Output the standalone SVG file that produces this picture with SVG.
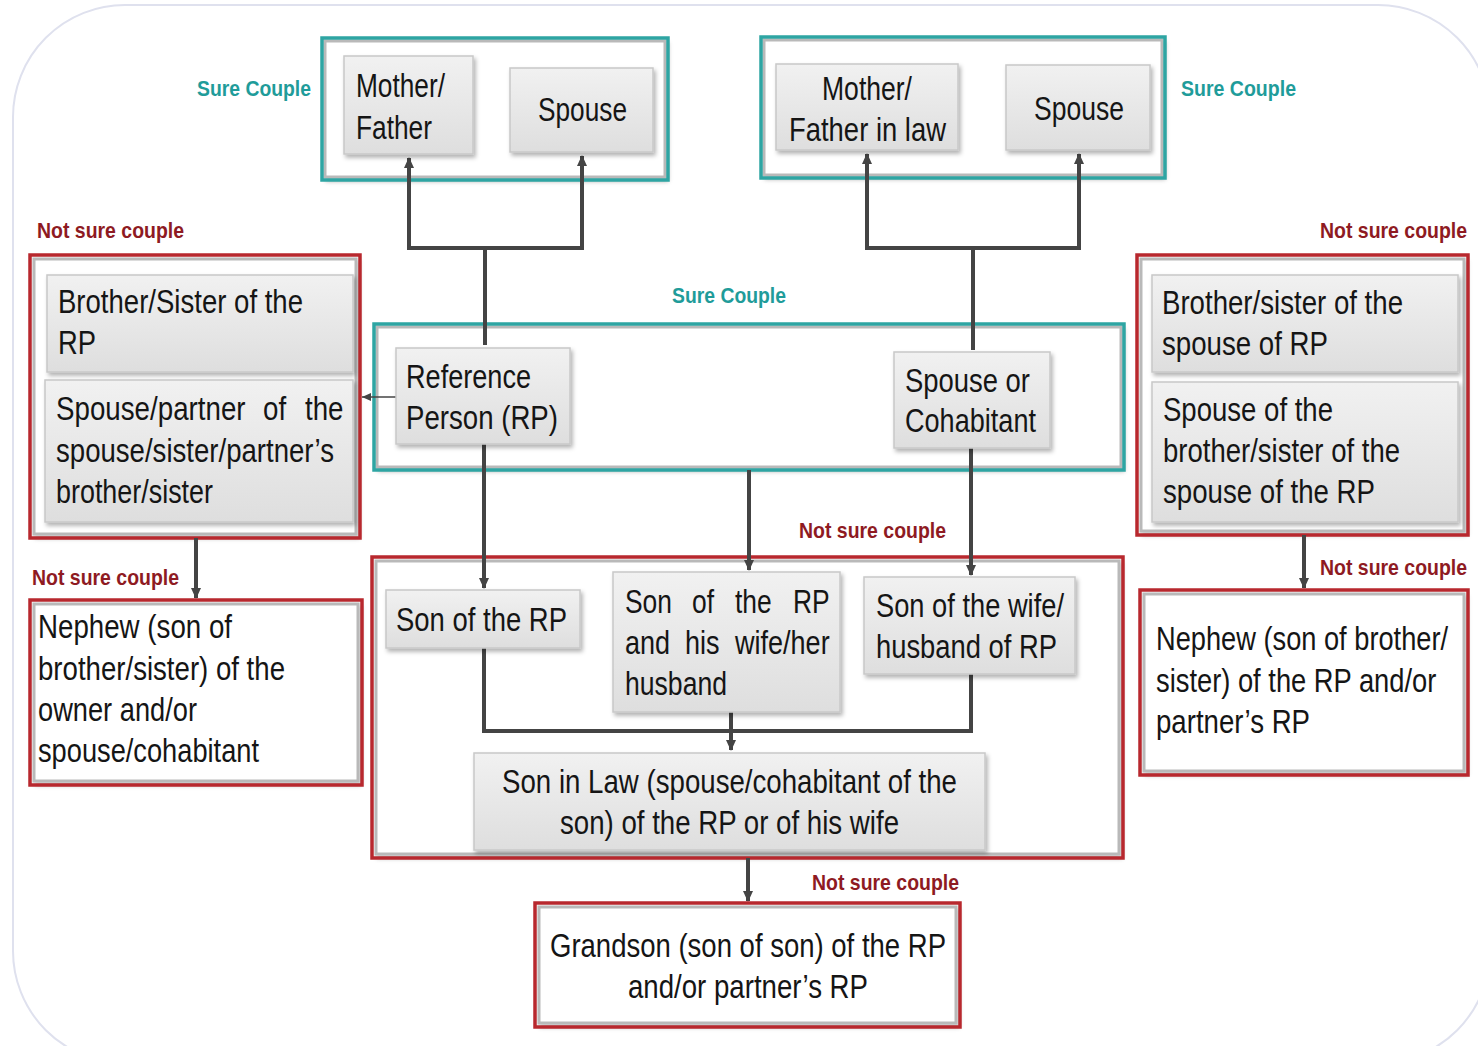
<svg xmlns="http://www.w3.org/2000/svg" width="1478" height="1046" viewBox="0 0 1478 1046">
<style>
.t{font-family:"Liberation Sans",Arial,sans-serif;font-size:33px;fill:#151515}
.sc{font-family:"Liberation Sans",Arial,sans-serif;font-size:22px;font-weight:bold;fill:#1f9c9a}
.ns{font-family:"Liberation Sans",Arial,sans-serif;font-size:22px;font-weight:bold;fill:#8e1a22}
.btn{fill:url(#bg);stroke:#c8c8c8;stroke-width:1.5;filter:url(#sh)}
.tealf{fill:none;stroke:#2ea5a3;stroke-width:3.5}
.redf{fill:none;stroke:#b8282e;stroke-width:3.5}
.inner{fill:#fff;stroke:#b9b9b9;stroke-width:3;filter:url(#sh)}
.c{fill:none;stroke:#444;stroke-width:4}
.thin{fill:none;stroke:#444;stroke-width:1.5}
</style>
<defs>
<linearGradient id="bg" x1="0" y1="0" x2="0" y2="1">
<stop offset="0" stop-color="#f1f1f1"/>
<stop offset="1" stop-color="#dedede"/>
</linearGradient>
<filter id="sh" x="-10%" y="-10%" width="130%" height="130%">
<feDropShadow dx="2" dy="3" stdDeviation="2" flood-color="#000" flood-opacity="0.3"/>
</filter>
<marker id="ah" markerWidth="12" markerHeight="12" refX="10" refY="6" orient="auto" markerUnits="userSpaceOnUse">
<path d="M0,1 L11,6 L0,11 Z" fill="#444"/>
</marker>
<marker id="ahs" markerWidth="10" markerHeight="8" refX="9" refY="4" orient="auto" markerUnits="userSpaceOnUse">
<path d="M0,0 L9,4 L0,8 Z" fill="#444"/>
</marker>
</defs>
<rect x="13" y="5" width="1477" height="1058" rx="112" fill="#fff" stroke="#dfe1ee" stroke-width="2"/>

<g id="frames">
<g id="frame-parents"><rect class="inner" x="325" y="41" width="340" height="136"/><rect class="tealf" x="322" y="38" width="346" height="142"/></g>
<g id="frame-inlaws"><rect class="inner" x="764" y="40" width="398" height="135"/><rect class="tealf" x="761" y="37" width="404" height="141"/></g>
<g id="frame-couple"><rect class="inner" x="377" y="327" width="744" height="140"/><rect class="tealf" x="374" y="324" width="750" height="146"/></g>
<g id="frame-siblings-rp"><rect class="inner" x="34" y="259" width="322" height="275"/><rect class="redf" x="30" y="255" width="330" height="283"/></g>
<g id="frame-siblings-sp"><rect class="inner" x="1141" y="259" width="323" height="272"/><rect class="redf" x="1137" y="255" width="331" height="280"/></g>
<g id="frame-children"><rect class="inner" x="376" y="561" width="743" height="293"/><rect class="redf" x="372" y="557" width="751" height="301"/></g>
</g>

<g id="labels">
<text class="sc" x="197" y="96" textLength="114" lengthAdjust="spacingAndGlyphs">Sure Couple</text>
<text class="sc" x="1181" y="96" textLength="115" lengthAdjust="spacingAndGlyphs">Sure Couple</text>
<text class="sc" x="672" y="303" textLength="114" lengthAdjust="spacingAndGlyphs">Sure Couple</text>
<text class="ns" x="37" y="238" textLength="147" lengthAdjust="spacingAndGlyphs">Not sure couple</text>
<text class="ns" transform="translate(1320,238) scale(0.885,1)" x="0" y="0">Not sure couple</text>
<text class="ns" x="799" y="538" textLength="147" lengthAdjust="spacingAndGlyphs">Not sure couple</text>
<text class="ns" x="32" y="585" textLength="147" lengthAdjust="spacingAndGlyphs">Not sure couple</text>
<text class="ns" transform="translate(1320,575) scale(0.885,1)" x="0" y="0">Not sure couple</text>
<text class="ns" x="812" y="890" textLength="147" lengthAdjust="spacingAndGlyphs">Not sure couple</text>
</g>

<g id="connectors">
<polyline class="c" points="485,345 485,248 409,248 409,158" marker-end="url(#ah)"/>
<polyline class="c" points="485,248 582,248 582,156" marker-end="url(#ah)"/>
<polyline class="c" points="973,350 973,248 867,248 867,154" marker-end="url(#ah)"/>
<polyline class="c" points="973,248 1079,248 1079,154" marker-end="url(#ah)"/>
<line class="thin" x1="396" y1="397" x2="362" y2="397" marker-end="url(#ahs)"/>
<line class="c" x1="484" y1="444" x2="484" y2="588" marker-end="url(#ah)"/>
<line class="c" x1="749" y1="470" x2="749" y2="570" marker-end="url(#ah)"/>
<line class="c" x1="971" y1="448" x2="971" y2="575" marker-end="url(#ah)"/>
<polyline class="c" points="484,648 484,731 971,731 971,674"/>
<line class="c" x1="731" y1="712" x2="731" y2="750" marker-end="url(#ah)"/>
<line class="c" x1="196" y1="538" x2="196" y2="598" marker-end="url(#ah)"/>
<line class="c" x1="1304" y1="535" x2="1304" y2="588" marker-end="url(#ah)"/>
<line class="c" x1="748" y1="858" x2="748" y2="901" marker-end="url(#ah)"/>
</g>

<g id="n-mother-father"><rect class="btn" x="344" y="56" width="129" height="98"/>
<text class="t" x="356" y="97" textLength="89" lengthAdjust="spacingAndGlyphs">Mother/</text>
<text class="t" x="356" y="139" textLength="76" lengthAdjust="spacingAndGlyphs">Father</text></g>
<g id="n-spouse-parent"><rect class="btn" x="510" y="68" width="143" height="84"/>
<text class="t" x="538" y="121" textLength="89" lengthAdjust="spacingAndGlyphs">Spouse</text></g>
<g id="n-inlaws"><rect class="btn" x="776" y="64" width="182" height="86"/>
<text class="t" x="822" y="100" textLength="90" lengthAdjust="spacingAndGlyphs">Mother/</text>
<text class="t" x="789" y="141" textLength="157" lengthAdjust="spacingAndGlyphs">Father in law</text></g>
<g id="n-spouse-inlaw"><rect class="btn" x="1006" y="65" width="144" height="85"/>
<text class="t" x="1034" y="120" textLength="90" lengthAdjust="spacingAndGlyphs">Spouse</text></g>

<g id="n-rp"><rect class="btn" x="396" y="348" width="174" height="96"/>
<text class="t" x="406" y="388" textLength="125" lengthAdjust="spacingAndGlyphs">Reference</text>
<text class="t" x="406" y="429" textLength="152" lengthAdjust="spacingAndGlyphs">Person (RP)</text></g>
<g id="n-spouse-cohab"><rect class="btn" x="894" y="352" width="156" height="96"/>
<text class="t" x="905" y="392" textLength="125" lengthAdjust="spacingAndGlyphs">Spouse or</text>
<text class="t" x="905" y="432" textLength="131" lengthAdjust="spacingAndGlyphs">Cohabitant</text></g>

<g id="n-sibling-rp"><rect class="btn" x="47" y="275" width="306" height="97"/>
<text class="t" x="58" y="313" textLength="245" lengthAdjust="spacingAndGlyphs">Brother/Sister of the</text>
<text class="t" x="58" y="354" textLength="38" lengthAdjust="spacingAndGlyphs">RP</text></g>
<g id="n-sibling-spouse"><rect class="btn" x="45" y="380" width="308" height="142"/>
<text class="t" transform="translate(0,420) scale(0.84,1)" y="0"><tspan x="66.7">Spouse/partner</tspan><tspan x="313.1">of</tspan><tspan x="363.1">the</tspan></text>
<text class="t" x="56" y="462" textLength="278" lengthAdjust="spacingAndGlyphs">spouse/sister/partner’s</text>
<text class="t" x="56" y="503" textLength="157" lengthAdjust="spacingAndGlyphs">brother/sister</text></g>

<g id="n-sibling-of-spouse"><rect class="btn" x="1152" y="275" width="306" height="97"/>
<text class="t" x="1162" y="314" textLength="241" lengthAdjust="spacingAndGlyphs">Brother/sister of the</text>
<text class="t" x="1162" y="355" textLength="166" lengthAdjust="spacingAndGlyphs">spouse of RP</text></g>
<g id="n-spouse-of-sibling"><rect class="btn" x="1152" y="382" width="306" height="140"/>
<text class="t" x="1163" y="421" textLength="170" lengthAdjust="spacingAndGlyphs">Spouse of the</text>
<text class="t" x="1163" y="462" textLength="237" lengthAdjust="spacingAndGlyphs">brother/sister of the</text>
<text class="t" x="1163" y="503" textLength="212" lengthAdjust="spacingAndGlyphs">spouse of the RP</text></g>

<g id="n-nephew-left"><rect class="inner" x="34" y="604" width="324" height="177"/><rect class="redf" x="30" y="600" width="332" height="185"/>
<text class="t" x="38" y="638" textLength="194" lengthAdjust="spacingAndGlyphs">Nephew (son of</text>
<text class="t" x="38" y="680" textLength="247" lengthAdjust="spacingAndGlyphs">brother/sister) of the</text>
<text class="t" x="38" y="721" textLength="159" lengthAdjust="spacingAndGlyphs">owner and/or</text>
<text class="t" x="38" y="762" textLength="221" lengthAdjust="spacingAndGlyphs">spouse/cohabitant</text></g>

<g id="n-nephew-right"><rect class="inner" x="1144" y="594" width="320" height="177"/><rect class="redf" x="1140" y="590" width="328" height="185"/>
<text class="t" transform="translate(1156,650) scale(0.825,1)" x="0" y="0">Nephew (son of brother/</text>
<text class="t" transform="translate(1156,692) scale(0.828,1)" x="0" y="0">sister) of the RP and/or</text>
<text class="t" x="1156" y="733" textLength="154" lengthAdjust="spacingAndGlyphs">partner’s RP</text></g>

<g id="n-son-rp"><rect class="btn" x="386" y="590" width="194" height="58"/>
<text class="t" x="396" y="631" textLength="171" lengthAdjust="spacingAndGlyphs">Son of the RP</text></g>
<g id="n-son-both"><rect class="btn" x="613" y="572" width="227" height="140"/>
<text class="t" transform="translate(0,613) scale(0.8,1)" y="0"><tspan x="781.25">Son</tspan><tspan x="865">of</tspan><tspan x="918.75">the</tspan><tspan x="991.25">RP</tspan></text>
<text class="t" transform="translate(0,654) scale(0.82,1)" y="0"><tspan x="762.2">and</tspan><tspan x="835.4">his</tspan><tspan x="896.3">wife/her</tspan></text>
<text class="t" x="625" y="695" textLength="102" lengthAdjust="spacingAndGlyphs">husband</text></g>
<g id="n-son-spouse"><rect class="btn" x="864" y="577" width="211" height="97"/>
<text class="t" x="876" y="617" textLength="188" lengthAdjust="spacingAndGlyphs">Son of the wife/</text>
<text class="t" x="876" y="658" textLength="181" lengthAdjust="spacingAndGlyphs">husband of RP</text></g>
<g id="n-son-in-law"><rect class="btn" x="474" y="753" width="511" height="97"/>
<text class="t" x="502" y="793" textLength="455" lengthAdjust="spacingAndGlyphs">Son in Law (spouse/cohabitant of the</text>
<text class="t" x="560" y="834" textLength="339" lengthAdjust="spacingAndGlyphs">son) of the RP or of his wife</text></g>

<g id="n-grandson"><rect class="inner" x="539" y="907" width="417" height="116"/><rect class="redf" x="535" y="903" width="425" height="124"/>
<text class="t" x="550" y="957" textLength="396" lengthAdjust="spacingAndGlyphs">Grandson (son of son) of the RP</text>
<text class="t" x="628" y="998" textLength="240" lengthAdjust="spacingAndGlyphs">and/or partner’s RP</text></g>
</svg>
